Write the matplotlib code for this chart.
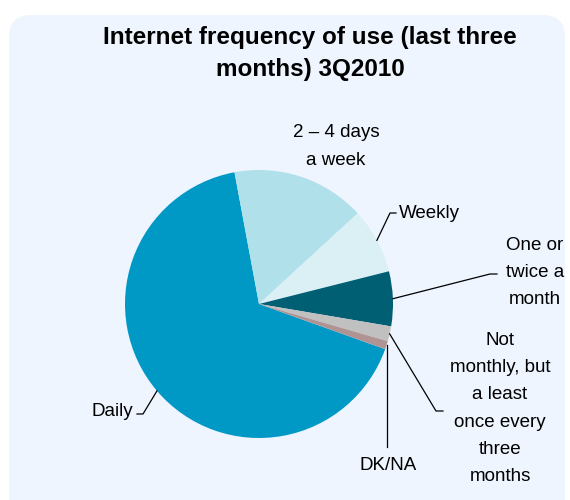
import numpy as np
import matplotlib
matplotlib.use("Agg")
import matplotlib.pyplot as plt
from matplotlib.patches import FancyBboxPatch

plt.rcParams['font.family'] = ['Liberation Sans', 'DejaVu Sans']

# Share of internet users by frequency of use (%)
categories = ["Daily", "2 – 4 days\na week", "Weekly", "One or\ntwice a\nmonth",
              "Not\nmonthly, but\na least\nonce every\nthree\nmonths", "DK/NA"]
shares = [66.6, 16.1, 7.9, 6.6, 1.8, 1.0]
colors = ["#0099C6", "#B0E0EA", "#DAF0F5", "#005F73", "#C0C0C0", "#B09494"]
title = "Internet frequency of use (last three\nmonths) 3Q2010"

W, H = 570, 500
fig = plt.figure(figsize=(W / 100, H / 100), dpi=100)
fig.patch.set_facecolor("white")
ax = fig.add_axes([0, 0, 1, 1])

# rounded panel behind the chart
panel = FancyBboxPatch((9, -30), 556, 515, boxstyle="round,pad=0,rounding_size=22",
                       facecolor="#EEF5FE", edgecolor="none", zorder=0)
ax.add_patch(panel)

cx, cy, r = 259, 196, 134
wedges, _ = ax.pie(shares, colors=colors, startangle=-19.7, counterclock=False,
                   center=(cx, cy), radius=r,
                   wedgeprops=dict(linewidth=0.4, edgecolor="none"))
for w in wedges:
    w.set_zorder(2)

ax.set_xlim(0, W)
ax.set_ylim(0, H)
ax.set_aspect("equal")
ax.axis("off")


def edge_point(w):
    mid = np.deg2rad((w.theta1 + w.theta2) / 2)
    return cx + r * np.cos(mid), cy + r * np.sin(mid)


fs = 13.5
lkw = dict(color="black", lw=0.9, zorder=3)

# label placement: (text x, text y, ha, leader path after the wedge edge)
layout = {
    0: (133, 88, "right", [(143, 86), (137, 86)]),
    1: (336, 353.5, "center", None),
    2: (399, 287, "left", [(390, 287), (396, 287)]),
    3: (535, 227.5, "center", [(490, 226), (497, 226)]),
    4: (500, 91.5, "center", [(436, 89), (443, 89)]),
    5: (388, 35, "center", [(387, 53)]),
}

for i, w in enumerate(wedges):
    tx, ty, ha, path = layout[i]
    if path:
        x0, y0 = edge_point(w)
        if i == 5:
            path = [(x0, path[0][1])]
        xs = [x0] + [p[0] for p in path]
        ys = [y0] + [p[1] for p in path]
        ax.plot(xs, ys, **lkw)
    ax.text(tx, ty, categories[i], ha=ha, va="center", multialignment="center",
            fontsize=fs, linespacing=1.78, zorder=4)

ax.text(310, 446.5, title, ha="center", va="center", fontsize=17.5,
        fontweight="bold", linespacing=1.48, zorder=4)

fig.savefig("out.png", dpi=100)
